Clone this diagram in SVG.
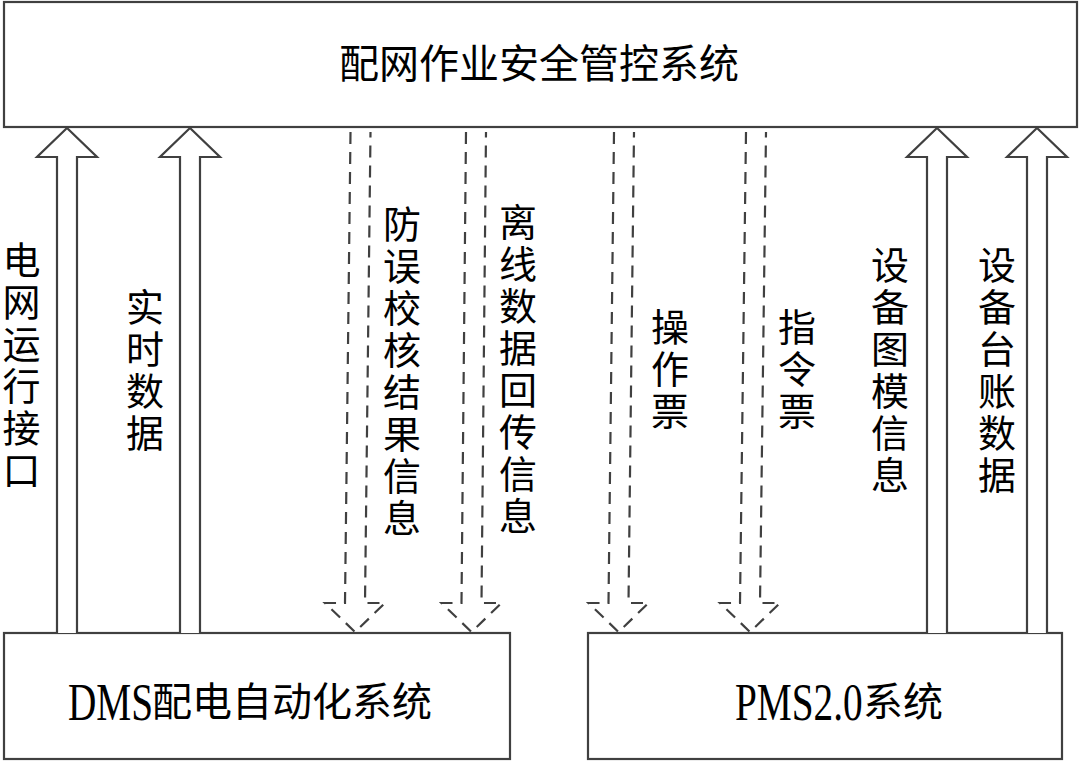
<svg xmlns="http://www.w3.org/2000/svg" width="1080" height="768" viewBox="0 0 1080 768">
<style>
.box{fill:#fff;stroke:#404040;stroke-width:2.2}
.solid{fill:#fff;stroke:#404040;stroke-width:2.2;stroke-linejoin:miter}
.dash{fill:none;stroke:#404040;stroke-width:2.2;stroke-dasharray:12 8}
.t{font-family:"Liberation Serif","Noto Sans CJK SC",serif;fill:#000}
.cjk{font-family:"Noto Sans CJK SC","Liberation Serif",sans-serif;fill:#000}
.v{font-family:"Noto Sans CJK SC",sans-serif;font-size:38px;writing-mode:vertical-rl;text-orientation:upright;letter-spacing:4px;fill:#000}
</style>
<rect width="1080" height="768" fill="#fff"/>
<g id="node-top">
<rect class="box" x="4" y="2" width="1073" height="125"/>
<text class="cjk" x="539" y="78" font-size="40" text-anchor="middle">配网作业安全管控系统</text>
</g>
<g id="node-dms">
<rect class="box" x="4" y="633" width="506" height="126"/>
<text class="t" font-size="52" transform="translate(68,720) scale(0.755,1)">DMS</text>
<text class="cjk" x="152" y="716" font-size="40">配电自动化系统</text>
</g>
<g id="node-pms">
<rect class="box" x="588" y="633" width="474" height="126"/>
<text class="t" font-size="52" transform="translate(735,720) scale(0.755,1)">PMS2.0</text>
<text class="cjk" x="863" y="716" font-size="40">系统</text>
</g>
<g id="connectors">
<polyline class="solid" points="57,633 57,157 37,157 67,128 97,157 77,157 77,633"/>
<polyline class="solid" points="180,633 180,157 160,157 190,128 220,157 200,157 200,633"/>
<polyline class="solid" points="927,633 927,157 907,157 937,128 967,157 947,157 947,633"/>
<polyline class="solid" points="1027,633 1027,157 1007,157 1037,128 1067,157 1047,157 1047,633"/>
<polyline class="dash" points="350.5,132 345,603 325,603 355,632 385,603 365,603 370.5,132"/>
<polyline class="dash" points="466,132 461.5,603 441.5,603 471.5,632 501.5,603 481.5,603 486,132"/>
<polyline class="dash" points="614,132 608.5,603 588.5,603 618.5,632 648.5,603 628.5,603 634,132"/>
<polyline class="dash" points="746,132 740,603 720,603 750,632 780,603 760,603 766,132"/>
</g>
<g id="labels">
<text class="v" x="21.5" y="241">电网运行接口</text>
<text class="v" x="145" y="288">实时数据</text>
<text class="v" x="402" y="205">防误校核结果信息</text>
<text class="v" x="518" y="203">离线数据回传信息</text>
<text class="v" x="670" y="308">操作票</text>
<text class="v" x="797" y="308">指令票</text>
<text class="v" x="890" y="246">设备图模信息</text>
<text class="v" x="997" y="246">设备台账数据</text>
</g>
</svg>
